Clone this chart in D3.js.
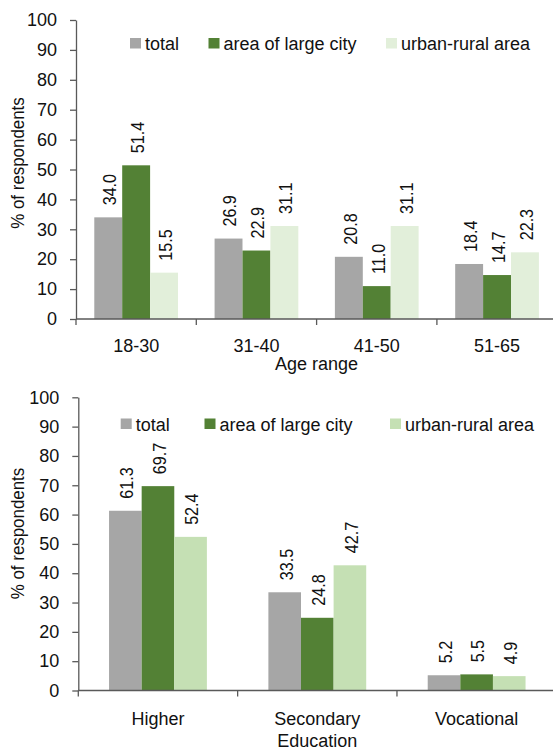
<!DOCTYPE html>
<html>
<head>
<meta charset="utf-8">
<script src="https://cdn.jsdelivr.net/npm/d3@7"></script>
<style>
  html, body { margin: 0; padding: 0; background: #fff; }
  svg { display: block; font-family: "Liberation Sans", Arial, sans-serif; }
</style>
</head>
<body>
<svg id="chart" width="553" height="752"></svg>
<script>
// Series shared by both panels
const seriesNames = ["total", "area of large city", "urban-rural area"];
const yTickValues = [0, 10, 20, 30, 40, 50, 60, 70, 80, 90, 100];

// Panel 1: age range
const ageCategories = ["18-30", "31-40", "41-50", "51-65"];
const ageTotal = [34.0, 26.9, 20.8, 18.4];
const ageLargeCity = [51.4, 22.9, 11.0, 14.7];
const ageUrbanRural = [15.5, 31.1, 31.1, 22.3];

// Panel 2: education
const eduCategories = ["Higher", "Secondary\nEducation", "Vocational"];
const eduTotal = [61.3, 33.5, 5.2];
const eduLargeCity = [69.7, 24.8, 5.5];
const eduUrbanRural = [52.4, 42.7, 4.9];

const svg = d3.select("#chart");
const axisColor = "#595959";
const textColor = "#111";

function drawPanel(opt) {
  const g = svg.append("g");
  const rows = opt.categories.map((c, i) => ({
    cat: c,
    values: opt.series.map((s, j) => ({ key: seriesNames[j], value: s[i], color: opt.colors[j] }))
  }));

  const x = d3.scaleBand().domain(opt.categories).range(opt.xRange).padding(0);
  const xInner = d3.scaleBand().domain(seriesNames)
    .range([0, x.bandwidth()]).paddingInner(0).paddingOuter(opt.outerPad / (1 - 2 * opt.outerPad) * 0 + 0)
    .range([x.bandwidth() * opt.outerPad, x.bandwidth() * (1 - opt.outerPad)]);
  const y = d3.scaleLinear().domain([0, 100]).range(opt.yRange);

  // Bars
  const groups = g.selectAll("g.grp").data(rows).join("g")
    .attr("class", "grp")
    .attr("transform", d => `translate(${x(d.cat)},0)`);

  groups.selectAll("rect").data(d => d.values).join("rect")
    .attr("x", d => xInner(d.key))
    .attr("width", xInner.bandwidth())
    .attr("y", d => y(d.value))
    .attr("height", d => y(0) - y(d.value))
    .attr("fill", d => d.color);

  // Rotated value labels
  groups.selectAll("text.val").data(d => d.values).join("text")
    .attr("class", "val")
    .attr("transform", d => `translate(${xInner(d.key) + xInner.bandwidth() / 2 + 1},${y(d.value) - 12}) rotate(-90) scale(0.85,1)`)
    .attr("dy", "0.36em")
    .attr("text-anchor", "start")
    .attr("font-size", 19)
    .attr("fill", textColor)
    .text(d => d.value.toFixed(1));

  // Y axis
  const yAxis = d3.axisLeft(y).tickValues(yTickValues).tickSize(6).tickSizeOuter(0).tickPadding(13);
  const ya = g.append("g").attr("transform", `translate(${opt.xRange[0]},0)`).call(yAxis);
  ya.select(".domain").attr("stroke", axisColor).attr("stroke-width", 1.3);
  ya.selectAll(".tick line").attr("stroke", axisColor).attr("stroke-width", 1.3);
  ya.selectAll(".tick text").attr("font-size", 18).attr("fill", textColor)
    .attr("font-family", "'Liberation Sans', Arial, sans-serif");

  // X axis baseline with ticks at category boundaries
  g.append("line")
    .attr("x1", opt.xRange[0]).attr("x2", opt.xRange[1])
    .attr("y1", y(0)).attr("y2", y(0))
    .attr("stroke", axisColor).attr("stroke-width", 1.3);
  g.selectAll("line.xtick").data(opt.categories).join("line")
    .attr("class", "xtick")
    .attr("x1", d => x(d)).attr("x2", d => x(d))
    .attr("y1", y(0)).attr("y2", y(0) + 6)
    .attr("stroke", axisColor).attr("stroke-width", 1.3);

  // Category labels
  const catText = g.selectAll("text.cat").data(opt.categories).join("text")
    .attr("class", "cat")
    .attr("x", d => x(d) + x.bandwidth() / 2)
    .attr("y", y(0) + opt.catOffset)
    .attr("text-anchor", "middle")
    .attr("font-size", 18)
    .attr("fill", textColor);
  catText.selectAll("tspan").data(d => d.split("\n")).join("tspan")
    .attr("x", function () { return d3.select(this.parentNode).attr("x"); })
    .attr("dy", (d, i) => i === 0 ? 0 : 22)
    .text(d => d);

  // X axis title
  if (opt.xTitle) {
    g.append("text")
      .attr("x", (opt.xRange[0] + opt.xRange[1]) / 2)
      .attr("y", y(0) + opt.xTitleOffset)
      .attr("text-anchor", "middle")
      .attr("font-size", 18)
      .attr("fill", textColor)
      .text(opt.xTitle);
  }

  // Y axis title
  g.append("text")
    .attr("transform", `translate(24,${opt.yTitleCenter}) rotate(-90) scale(0.89,1)`)
    .attr("text-anchor", "middle")
    .attr("font-size", 19)
    .attr("fill", textColor)
    .text("% of respondents");

  // Legend
  const lg = g.selectAll("g.leg").data(seriesNames).join("g")
    .attr("class", "leg")
    .attr("transform", (d, i) => `translate(${opt.legendX[i]},${opt.legendY})`);
  lg.append("rect")
    .attr("x", 0).attr("y", -12).attr("width", 11).attr("height", 10.5)
    .attr("fill", (d, i) => opt.colors[i]);
  lg.append("text")
    .attr("x", 15).attr("y", 0)
    .attr("font-size", 18)
    .attr("fill", textColor)
    .text(d => d);
}

drawPanel({
  categories: ageCategories,
  series: [ageTotal, ageLargeCity, ageUrbanRural],
  colors: ["#a6a6a6", "#538135", "#e2efda"],
  xRange: [76, 557.2],
  yRange: [319, 20],
  outerPad: 0.152,
  catOffset: 33,
  xTitle: "Age range",
  xTitleOffset: 51,
  yTitleCenter: 163,
  legendX: [130, 208.5, 386],
  legendY: 50
});

drawPanel({
  categories: eduCategories,
  series: [eduTotal, eduLargeCity, eduUrbanRural],
  colors: ["#a6a6a6", "#538135", "#c5e0b4"],
  xRange: [78.3, 556.3],
  yRange: [690.5, 397.3],
  outerPad: 0.193,
  catOffset: 34.5,
  xTitle: null,
  yTitleCenter: 533.5,
  legendX: [120.7, 204.5, 390],
  legendY: 430.5
});
</script>
</body>
</html>
